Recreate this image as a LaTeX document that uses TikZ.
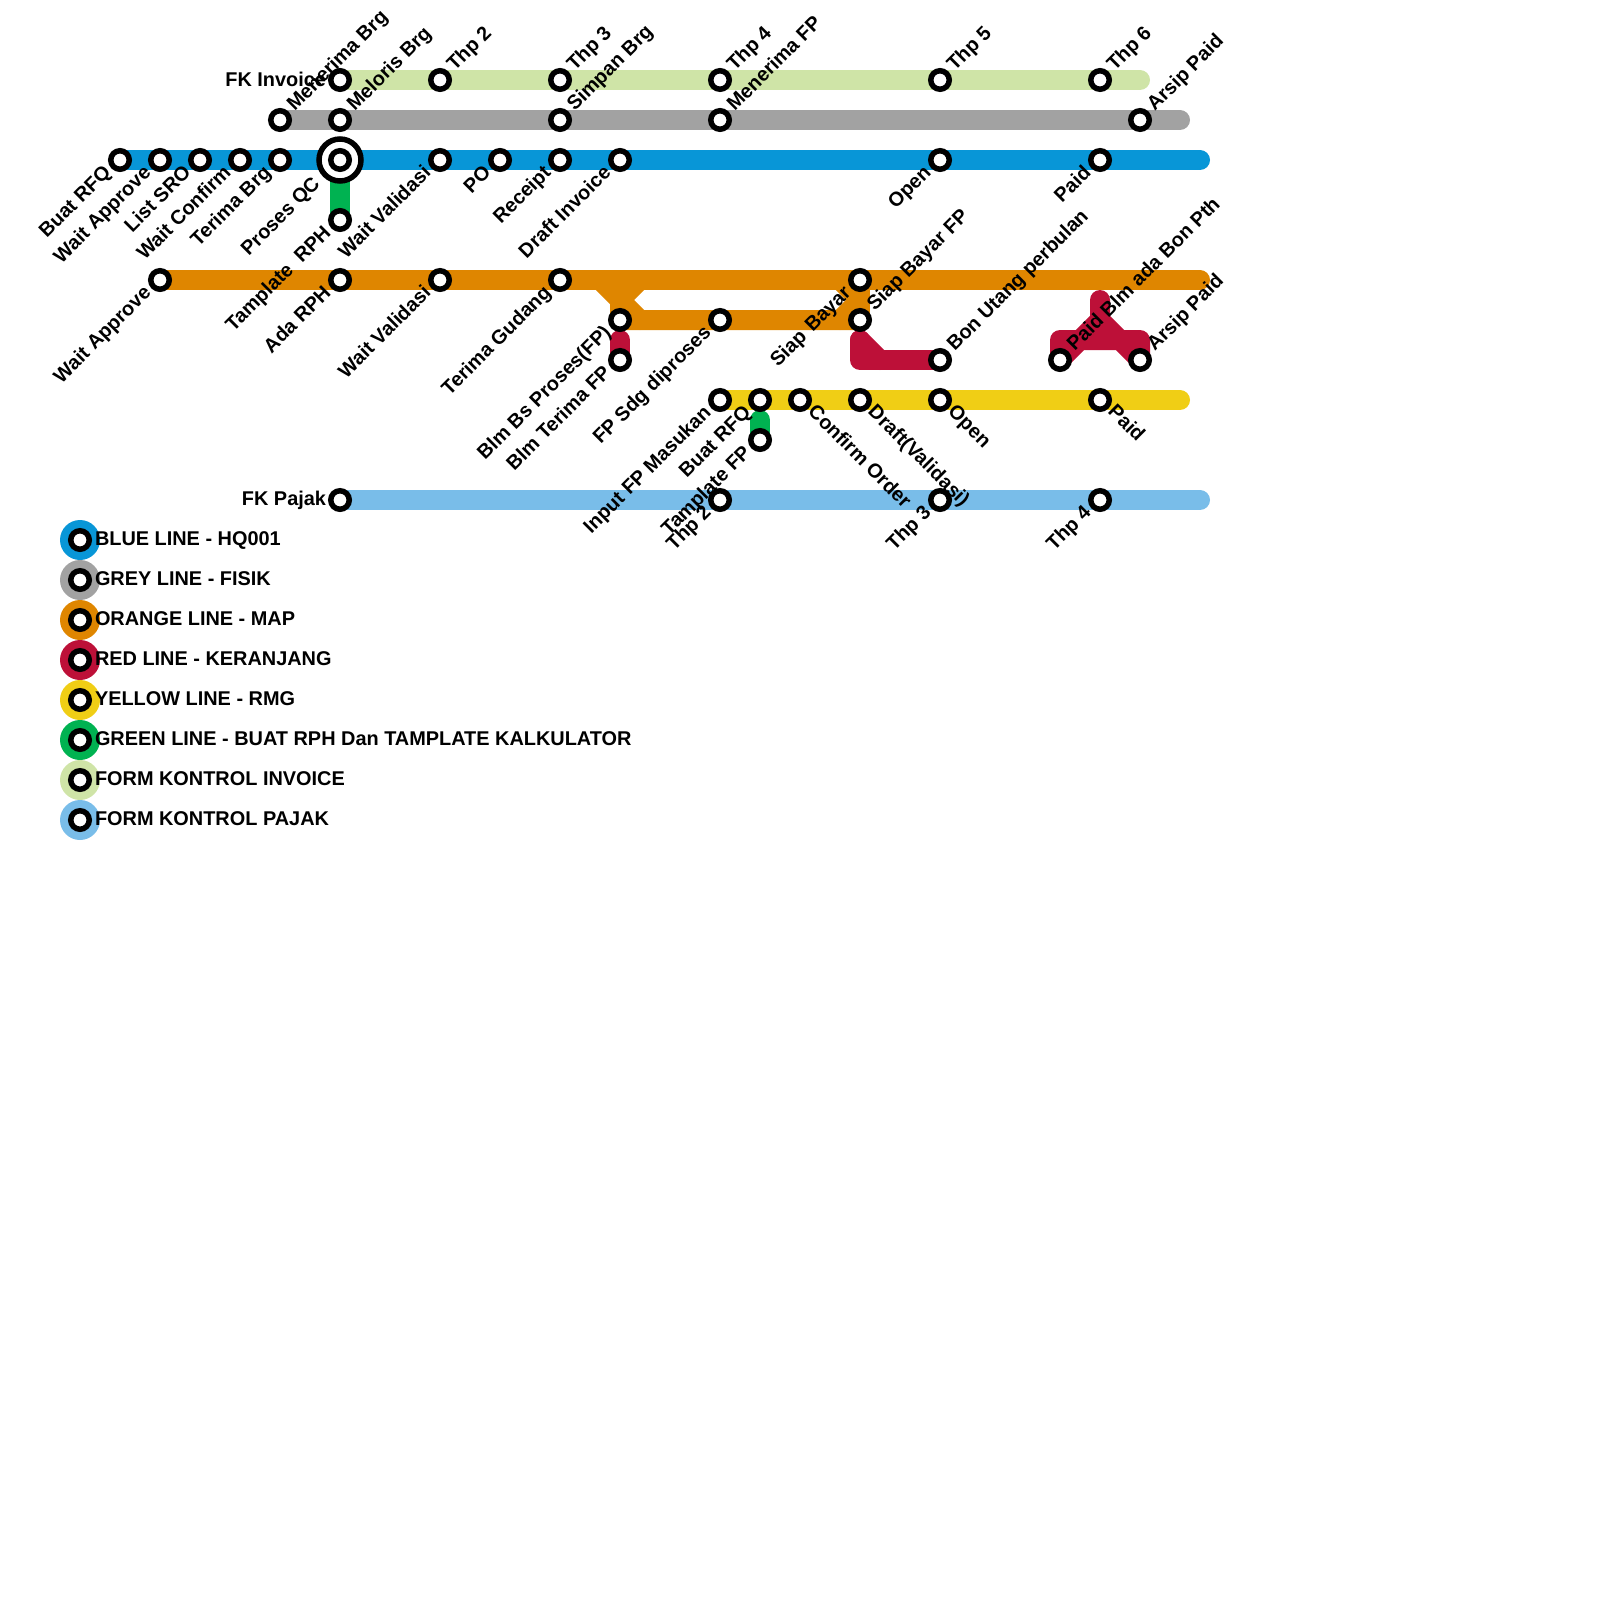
\documentclass[tikz,border=0pt]{standalone}
\usepackage{fontspec}
\setmainfont{Liberation Sans}[BoldFont={Liberation Sans Bold}]
\usetikzlibrary{backgrounds}
\definecolor{mblue}{HTML}{0896D7}
\definecolor{mgrey}{HTML}{A2A2A2}
\definecolor{morange}{HTML}{DF8600}
\definecolor{mred}{HTML}{BD1038}
\definecolor{myellow}{HTML}{F0CE15}
\definecolor{mgreen}{HTML}{00B251}
\definecolor{mlgreen}{HTML}{CFE4A7}
\definecolor{mlblue}{HTML}{79BDE9}
\tikzset{
  x=1pt,y=-1pt,
  st/.style={circle,draw=black,fill=white,line width=5.5pt,minimum size=18.5pt,inner sep=0pt,outer sep=0pt},
  hub/.style={circle,draw=black,fill=white,line width=5.5pt,minimum size=42pt,inner sep=0pt,outer sep=0pt},
  leg/.style={circle,fill=#1,minimum size=40pt,inner sep=0pt,outer sep=0pt},
  metro/.style={line width=20pt,line cap=round,line join=round,draw=#1},
  txt/.style={font=\fontsize{19.9}{22}\selectfont\bfseries,inner sep=0pt,outer sep=0pt},
  ur/.style={txt,rotate=45,anchor=mid west},
  dl/.style={txt,rotate=45,anchor=mid east},
  dr/.style={txt,rotate=-45,anchor=mid west},
  lf/.style={txt,anchor=mid east},
  lg/.style={txt,anchor=mid west},
}
\begin{document}
\begin{tikzpicture}
\useasboundingbox (0,0) rectangle (1600,1600);
% stations
\foreach \n/\x/\y in {
 g1/340/80,g2/440/80,g3/560/80,g4/720/80,g5/940/80,g6/1100/80,
 k1/280/120,k2/340/120,k3/560/120,k4/720/120,k5/1140/120,
 b1/120/160,b2/160/160,b3/200/160,b4/240/160,b5/280/160,b7/440/160,b8/500/160,b9/560/160,b10/620/160,b11/940/160,b12/1100/160,
 n1/340/220,n2/760/440,
 o1/160/280,o2/340/280,o3/440/280,o4/560/280,o5/860/280,o6/620/320,o7/720/320,o8/860/320,
 r1/620/360,r2/940/360,r3/1060/360,r4/1140/360,
 y1/720/400,y2/760/400,y3/800/400,y4/860/400,y5/940/400,y6/1100/400,
 p1/340/500,p2/720/500,p3/940/500,p4/1100/500}
 {\node[st] (\n) at (\x,\y) {};}
\node[hub] (hub) at (340,160) {};
\node[st] (b6) at (340,160) {};
% helper points on the lines
\coordinate (gE) at (1140,80);
\coordinate (kE) at (1180,120);
\coordinate (bE) at (1200,160);
\coordinate (oE) at (1200,280);
\coordinate (yE) at (1180,400);
\coordinate (pE) at (1200,500);
\coordinate (oa) at (600,280);
\coordinate (ob) at (640,280);
\coordinate (oc) at (620,300);
\coordinate (od) at (640,320);
\coordinate (oe) at (840,280);
\coordinate (of) at (860,300);
\coordinate (og) at (840,320);
\coordinate (rt) at (620,340);
\coordinate (ra) at (860,340);
\coordinate (rb) at (860,360);
\coordinate (rc) at (880,360);
\coordinate (rd) at (1100,300);
\coordinate (re) at (1100,320);
\coordinate (rf) at (1060,340);
\coordinate (rg) at (1140,340);
\coordinate (rh) at (1080,340);
\coordinate (ri) at (1120,340);
\coordinate (nt) at (760,420);
\begin{pgfonlayer}{background}
\draw[metro=mlgreen] (g1.center) -- (gE);
\draw[metro=mgrey] (k1.center) -- (kE);
\draw[metro=mblue] (b1.center) -- (bE);
\draw[metro=morange] (o1.center) -- (oE);
\draw[metro=morange] (oa) -- (oc) -- (o6.center) -- (o7.center) -- (o8.center);
\draw[metro=morange] (ob) -- (oc) -- (od);
\draw[metro=morange] (o5.center) -- (o8.center);
\draw[metro=morange] (oe) -- (of) -- (og);
\draw[metro=myellow] (y1.center) -- (yE);
\draw[metro=mlblue] (p1.center) -- (pE);
\draw[metro=mgreen] (b6.center) -- (n1.center);
\draw[metro=mgreen] (nt) -- (n2.center);
\draw[metro=mred] (rt) -- (r1.center);
\draw[metro=mred] (ra) -- (rb) -- (r2.center);
\draw[metro=mred] (ra) -- (rc);
\draw[metro=mred] (rd) -- (re) -- (rh) -- (r3.center) -- (rf) -- (rg) -- (r4.center) -- (ri) -- (re);
\end{pgfonlayer}
% labels
\node[lf] (tg1) at (326,83.5) {FK Invoice};
\node[lf] (tp1) at (326,502.5) {FK Pajak};
\foreach \s/\t [count=\i] in {g2/Thp 2,g3/Thp 3,g4/Thp 4,g5/Thp 5,g6/Thp 6,k1/Menerima Brg,k2/Meloris Brg,k3/Simpan Brg,k4/Menerima FP,k5/Arsip Paid,o8/Siap Bayar FP,r2/Bon Utang perbulan,r3/Paid Blm ada Bon Pth,r4/Arsip Paid}
 {\node[ur] (ua\i) at ([shift={(13,-10)}]\s.center) {\t};}
\foreach \s/\t [count=\i] in {b1/Buat RFQ,b2/Wait Approve,b3/List SRO,b4/Wait Confirm,b5/Terima Brg,b7/Wait Validasi,b8/PO,b9/Receipt,b10/Draft Invoice,b11/Open,b12/Paid,n1/Tamplate\ \ RPH,n2/Tamplate FP,o1/Wait Approve,o2/Ada RPH,o3/Wait Validasi,o4/Terima Gudang,o5/Siap\hspace{7pt}Bayar,o6/Blm Bs Proses(FP),r1/Blm Terima FP,o7/FP Sdg diproses,y1/Input FP Masukan,y2/Buat RFQ,p2/Thp 2,p3/Thp 3,p4/Thp 4}
 {\node[dl] (da\i) at ([shift={(-10,12)}]\s.center) {\t};}
\node[dl] (dhub) at (319,183) {Proses QC};
\foreach \s/\t [count=\i] in {y3/Confirm Order,y4/Draft(Validasi),y5/Open,y6/Paid}
 {\node[dr] (ra\i) at ([shift={(9,11)}]\s.center) {\t};}
% legend
\foreach \c/\y/\t [count=\i] in {mblue/540/BLUE LINE - HQ001,mgrey/580/GREY LINE - FISIK,morange/620/ORANGE LINE - MAP,mred/660/RED LINE - KERANJANG,myellow/700/YELLOW LINE - RMG,mgreen/740/GREEN LINE - BUAT RPH Dan TAMPLATE KALKULATOR,mlgreen/780/FORM KONTROL INVOICE,mlblue/820/FORM KONTROL PAJAK}
 {\node[leg=\c] (lc\i) at (80,\y) {};
  \node[st] (ls\i) at (80,\y) {};
  \node[lg] (lt\i) at (95,\y+2.5) {\t};}
\end{tikzpicture}
\end{document}
